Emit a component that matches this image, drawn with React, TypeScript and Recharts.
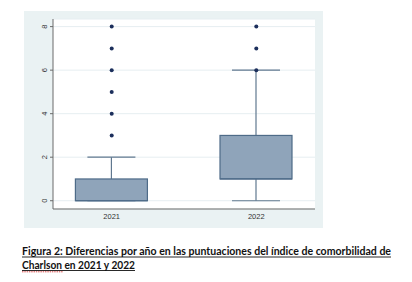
import { ComposedChart, Bar, Scatter, XAxis, YAxis, CartesianGrid } from "recharts";

// Charlson comorbidity index by year
const years = ["2021", "2022"];
const mins = [0, 0];
const q1s = [0, 1];
const medians = [0, 1];
const q3s = [1, 3];
const maxs = [2, 6];
const outliers2021 = [3, 4, 5, 6, 7, 8];
const outliers2022 = [6, 7, 8];
const yTicks = [0, 2, 4, 6, 8];

const boxData = years.map((year, i) => ({
  x: i + 1,
  year,
  range: [mins[i], maxs[i]],
  min: mins[i],
  q1: q1s[i],
  median: medians[i],
  q3: q3s[i],
  max: maxs[i],
}));

const outlierData = [
  ...outliers2021.map((v) => ({ x: 1, value: v })),
  ...outliers2022.map((v) => ({ x: 2, value: v })),
];

function BoxShape(props: any) {
  const { x, y, width, height, payload } = props;
  const span = payload.max - payload.min || 1;
  const py = (v: number) => y + (height * (payload.max - v)) / span;
  const cx = x + width / 2;
  const capW = (width * 2) / 3;
  const whisker = "#60788f";
  return (
    <g>
      <line x1={cx} x2={cx} y1={py(payload.max)} y2={py(payload.q3)} stroke={whisker} strokeWidth={1.2} />
      <line x1={cx} x2={cx} y1={py(payload.q1)} y2={py(payload.min)} stroke={whisker} strokeWidth={1.2} />
      <line x1={cx - capW / 2} x2={cx + capW / 2} y1={py(payload.max)} y2={py(payload.max)} stroke={whisker} strokeWidth={1.2} />
      <line x1={cx - capW / 2} x2={cx + capW / 2} y1={py(payload.min)} y2={py(payload.min)} stroke={whisker} strokeWidth={1.2} />
      <rect
        x={x}
        y={py(payload.q3)}
        width={width}
        height={py(payload.q1) - py(payload.q3)}
        fill="#8fa4ba"
        stroke="#4e6b88"
        strokeWidth={1.2}
      />
      <line x1={x} x2={x + width} y1={py(payload.median)} y2={py(payload.median)} stroke="#4e6b88" strokeWidth={1.2} />
    </g>
  );
}

function YTick({ x, y, payload }: any) {
  const cx = x - 5.7;
  return (
    <text
      x={cx}
      y={y}
      transform={`rotate(-90 ${cx} ${y})`}
      textAnchor="middle"
      dominantBaseline="central"
      fontSize={7.5}
      fill="#333"
    >
      {payload.value}
    </text>
  );
}

function XTick({ x, y, payload }: any) {
  return (
    <text x={x} y={y + 7.5} textAnchor="middle" dominantBaseline="central" fontSize={7.5} fill="#333">
      {years[payload.value - 1]}
    </text>
  );
}

export default function App() {
  return (
    <div style={{ position: "relative", width: 412, height: 282, background: "#fff", fontFamily: "'Liberation Sans', Arial, sans-serif" }}>
      <style>{`body{margin:0}`}</style>
      <div style={{ position: "absolute", left: 24, top: 11, width: 299, height: 217, background: "#eaf2f3" }}>
        <ComposedChart width={299} height={217} data={boxData} margin={{ top: 8, right: 8, left: 0, bottom: 0 }}>
          <CartesianGrid fill="#fff" vertical={false} stroke="#e6eef1" />
          <XAxis
            type="number"
            dataKey="x"
            domain={[0.594, 2.406]}
            ticks={[1, 2]}
            allowDataOverflow
            height={19}
            tickSize={0}
            tickMargin={0}
            tick={<XTick />}
            axisLine={{ stroke: "#6b6b6b" }}
            tickLine={false}
          />
          <YAxis
            type="number"
            domain={[-0.38, 8.35]}
            ticks={yTicks}
            allowDataOverflow
            width={29}
            tickSize={3}
            tickMargin={0}
            tick={<YTick />}
            axisLine={{ stroke: "#6b6b6b" }}
            tickLine={{ stroke: "#6b6b6b" }}
          />
          <Bar dataKey="range" barSize={72} shape={<BoxShape />} isAnimationActive={false} />
          <Scatter
            data={outlierData}
            dataKey="value"
            isAnimationActive={false}
            shape={(p: any) => <circle cx={p.cx} cy={p.cy} r={2} fill="#1c2f5c" />}
          />
        </ComposedChart>
      </div>
      <svg width={412} height={282} style={{ position: "absolute", left: 0, top: 0, pointerEvents: "none" }}>
        <g fontFamily="Lato, 'Open Sans', sans-serif" fontWeight="bold" fontSize={11} fill="#111">
          <text x={22} y={255} textLength={369} lengthAdjust="spacingAndGlyphs">
            Figura 2: Diferencias por año en las puntuaciones del índice de comorbilidad de
          </text>
          <text x={22} y={268.5} textLength={113} lengthAdjust="spacingAndGlyphs">
            Charlson en 2021 y 2022
          </text>
        </g>
        <line x1={22} x2={391} y1={257} y2={257} stroke="#111" strokeWidth={0.9} />
        <line x1={22} x2={135} y1={270.5} y2={270.5} stroke="#111" strokeWidth={0.9} />
        <line x1={22} x2={63} y1={271.8} y2={271.8} stroke="#d43a3a" strokeWidth={0.9} strokeDasharray="1.5 0.8" />
      </svg>
    </div>
  );
}
